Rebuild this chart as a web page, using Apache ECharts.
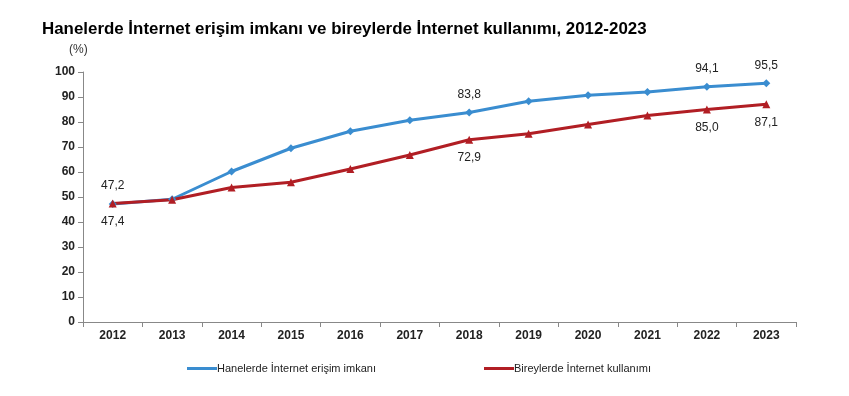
<!DOCTYPE html>
<html><head><meta charset="utf-8">
<script src="https://cdn.jsdelivr.net/npm/echarts@6/dist/echarts.min.js"></script>
<style>html,body{margin:0;padding:0;background:#fff}#c{width:849px;height:396px}</style>
</head><body><div id="c"></div>
<script>
const years = ['2012','2013','2014','2015','2016','2017','2018','2019','2020','2021','2022','2023'];
const households = [47.2, 49.1, 60.2, 69.5, 76.3, 80.7, 83.8, 88.3, 90.7, 92.0, 94.1, 95.5];
const individuals = [47.4, 48.9, 53.8, 55.9, 61.2, 66.8, 72.9, 75.3, 79.0, 82.6, 85.0, 87.1];
const labeledYears = ['2012','2018','2022','2023'];
const seriesNames = ['Hanelerde İnternet erişim imkanı', 'Bireylerde İnternet kullanımı'];
const titleText = 'Hanelerde İnternet erişim imkanı ve bireylerde İnternet kullanımı, 2012-2023';

const fmt = p => labeledYears.includes(p.name) ? p.value.toFixed(1).replace('.', ',') : '';
const chart = echarts.init(document.getElementById('c'), null, {renderer:'canvas'});
const FONT = 'Liberation Sans, Arial, sans-serif';
chart.setOption({
  animation:false,
  textStyle:{fontFamily:FONT},
  title:{text:titleText,left:37,top:16,textStyle:{fontFamily:FONT,fontSize:16.9,fontWeight:'bold',color:'#000'}},
  graphic:[{type:'text',left:69,top:44,style:{text:'(%)',font:'12px '+FONT,fill:'#333'}}],
  legend:[
    {data:[seriesNames[0]],left:187,top:363,padding:0,icon:'rect',itemWidth:30,itemHeight:3,itemGap:0,textStyle:{fontSize:11,color:'#222',padding:[0,0,0,-5]}},
    {data:[seriesNames[1]],left:484,top:363,padding:0,icon:'rect',itemWidth:30,itemHeight:3,itemGap:0,textStyle:{fontSize:11,color:'#222',padding:[0,0,0,-5]}}
  ],
  grid:{left:83,right:53,top:72,bottom:74,containLabel:false},
  xAxis:{type:'category',data:years,boundaryGap:true,
    axisLine:{lineStyle:{color:'#888'}},axisTick:{show:true,alignWithLabel:false,length:5,lineStyle:{color:'#888'}},
    axisLabel:{fontSize:12,fontWeight:'bold',color:'#222',margin:8}},
  yAxis:{type:'value',min:0,max:100,interval:10,
    axisLine:{show:true,lineStyle:{color:'#888'}},axisTick:{show:true,length:5,lineStyle:{color:'#888'}},
    splitLine:{show:false},axisLabel:{fontSize:12,fontWeight:'bold',color:'#222',margin:8}},
  series:[
    {name:seriesNames[0],type:'line',data:households,symbol:'diamond',symbolSize:8,
     lineStyle:{width:3,color:'#3a8dd0'},itemStyle:{color:'#3a8dd0'},
     label:{show:true,position:'top',distance:8,formatter:fmt,fontSize:12,color:'#222'}},
    {name:seriesNames[1],type:'line',data:individuals,symbol:'triangle',symbolSize:8,
     lineStyle:{width:3,color:'#b11e24'},itemStyle:{color:'#b11e24'},
     label:{show:true,position:'bottom',distance:8,formatter:fmt,fontSize:12,color:'#222'}}
  ]
});
</script></body></html>
